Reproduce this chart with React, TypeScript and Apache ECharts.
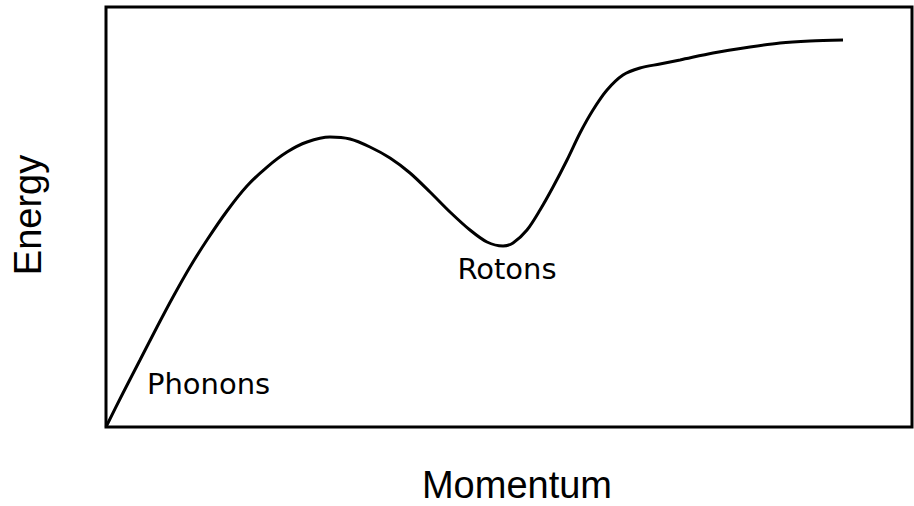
import React, { useEffect, useRef } from "react";
import * as echarts from "echarts";

// Dispersion curve (momentum, energy) in arbitrary units (0..100)
const momentum = [0, 2.11, 4.22, 6.33, 8.31, 10.42, 12.53, 15.01, 17.49, 19.98, 22.46, 24.94, 27.79, 30.27, 32.75, 35.24, 37.72, 40.2, 42.68, 45.16, 47.27, 49.26, 50.5, 52.23, 53.85, 55.46, 57.2, 58.81, 60.42, 62.16, 64.14, 66.25, 68.73, 71.22, 75.31, 79.9, 83.62, 87.34, 91.44];
const energy = [0, 8.1, 15.95, 23.81, 30.95, 38.1, 44.52, 51.43, 57.38, 61.9, 65.48, 67.86, 69.05, 68.57, 66.67, 64.05, 60.48, 55.95, 51.19, 46.9, 44.05, 43.1, 43.81, 46.9, 51.67, 57.14, 63.57, 70.0, 75.48, 80.24, 83.81, 85.48, 86.43, 87.38, 89.05, 90.48, 91.43, 91.9, 92.14];

const xTitle = "Momentum";
const yTitle = "Energy";
const annotations = ["Phonons", "Rotons"];

export default function App() {
  const ref = useRef<HTMLDivElement>(null);
  useEffect(() => {
    document.body.style.margin = "0";
    const chart = echarts.init(ref.current!, null, { renderer: "svg" });
    const data = momentum.map((m, i) => [m, energy[i]]);
    chart.setOption({
      animation: false,
      backgroundColor: "#fff",
      grid: {
        left: 106,
        right: 2,
        top: 7,
        bottom: 79,
        show: true,
        borderColor: "#000",
        borderWidth: 3,
        backgroundColor: "transparent",
      },
      xAxis: {
        type: "value",
        min: 0,
        max: 100,
        axisLine: { show: false },
        axisTick: { show: false },
        axisLabel: { show: false },
        splitLine: { show: false },
      },
      yAxis: {
        type: "value",
        min: 0,
        max: 100,
        axisLine: { show: false },
        axisTick: { show: false },
        axisLabel: { show: false },
        splitLine: { show: false },
      },
      series: [
        {
          type: "line",
          data,
          smooth: 0.3,
          symbol: "none",
          lineStyle: { color: "#000", width: 3 },
        },
      ],
      graphic: [
        {
          type: "text",
          x: 517,
          y: 485,
          style: {
            text: xTitle,
            font: "38px 'Liberation Sans', Arial, sans-serif",
            fill: "#000",
            align: "center",
            verticalAlign: "middle",
          },
        },
        {
          type: "text",
          x: 28,
          y: 215,
          rotation: Math.PI / 2,
          style: {
            text: yTitle,
            font: "38px 'Liberation Sans', Arial, sans-serif",
            fill: "#000",
            align: "center",
            verticalAlign: "middle",
          },
        },
        {
          type: "text",
          x: 147,
          y: 384,
          style: {
            text: annotations[0],
            font: "29px 'DejaVu Sans', Verdana, sans-serif",
            fill: "#000",
            align: "left",
            verticalAlign: "middle",
          },
        },
        {
          type: "text",
          x: 507,
          y: 269,
          style: {
            text: annotations[1],
            font: "29px 'DejaVu Sans', Verdana, sans-serif",
            fill: "#000",
            align: "center",
            verticalAlign: "middle",
          },
        },
      ],
    });
    return () => chart.dispose();
  }, []);
  return <div ref={ref} style={{ width: 914, height: 506 }} />;
}
